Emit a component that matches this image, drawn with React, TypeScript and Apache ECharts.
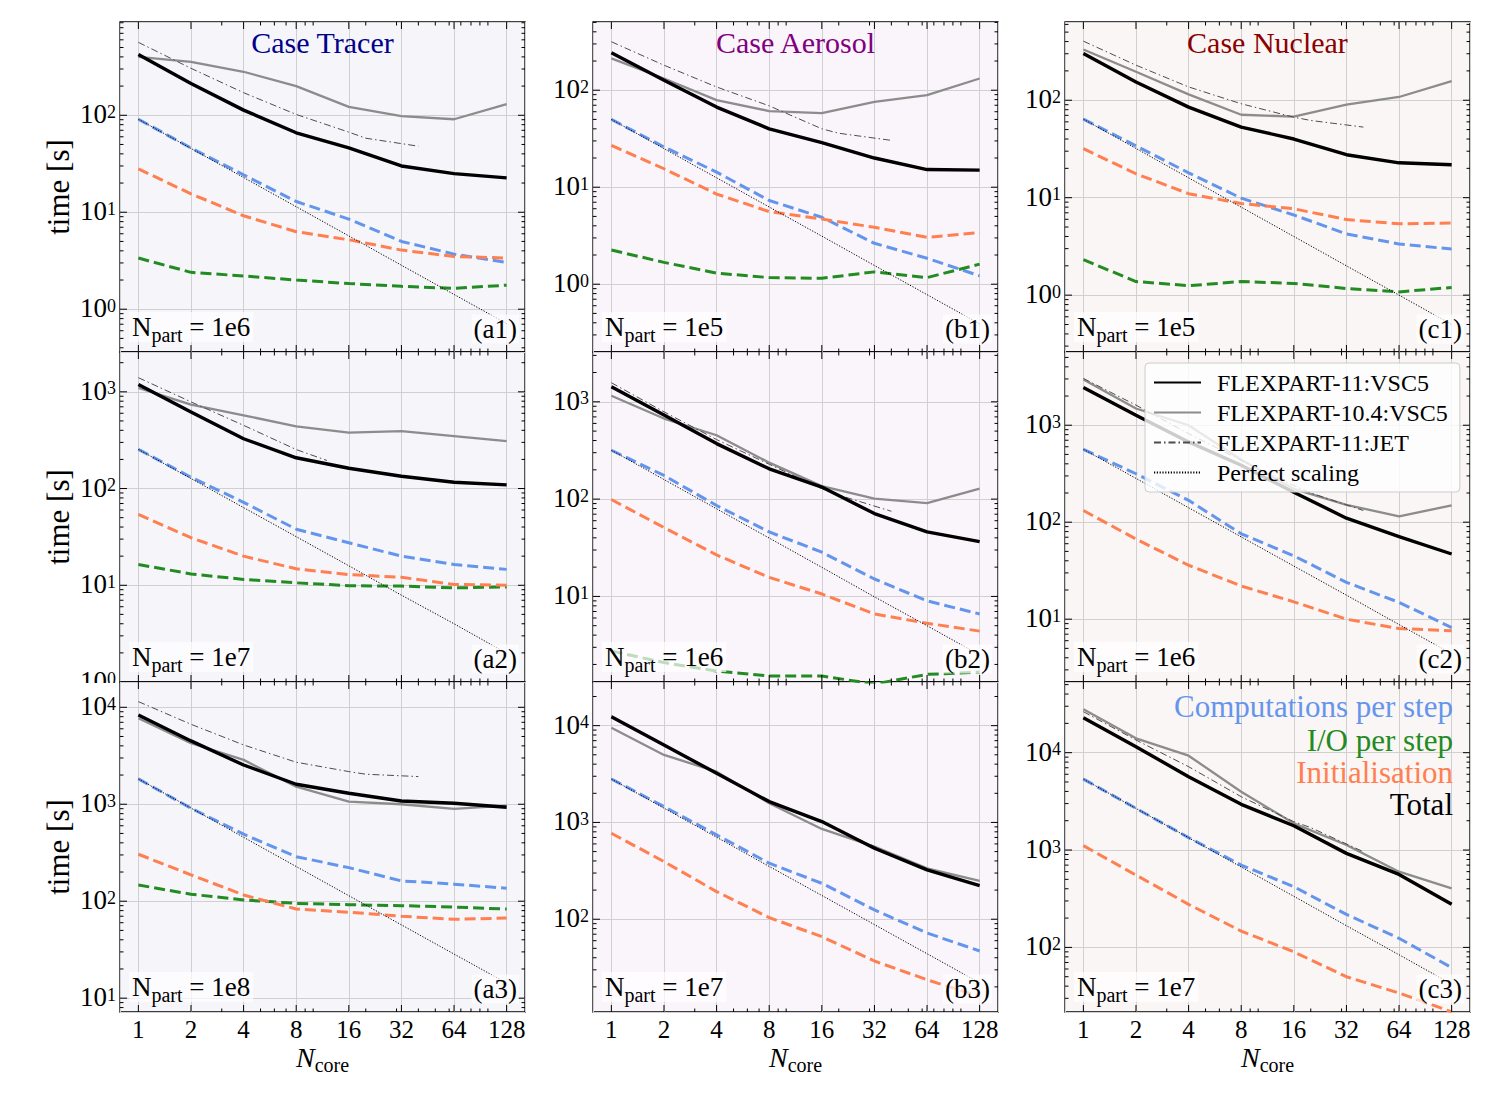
import React, { useEffect, useRef } from "react";
import * as echarts from "echarts";

const FONT = "'Liberation Serif', 'DejaVu Serif', serif";

// ---------------- data ----------------
const CORES = [1, 2, 4, 8, 16, 32, 64, 128];
const JET_CORES = [1, 2, 4, 8, 16, 20, 40];
const JET_CORES_A2 = [1, 2, 4, 8, 12];
const X_TICKS = [1, 2, 4, 8, 16, 32, 64, 128];

const CASES = ["Case Tracer", "Case Aerosol", "Case Nuclear"];
const NPART = ["1e6", "1e5", "1e5", "1e7", "1e6", "1e6", "1e8", "1e7", "1e7"];
const TAGS = ["(a1)", "(b1)", "(c1)", "(a2)", "(b2)", "(c2)", "(a3)", "(b3)", "(c3)"];
const LEGEND_NAMES = ["FLEXPART-11:VSC5", "FLEXPART-10.4:VSC5", "FLEXPART-11:JET", "Perfect scaling"];
const COMPONENT_NAMES = ["Computations per step", "I/O per step", "Initialisation", "Total"];

// Case Tracer, Npart 1e6 (a1)
const a1Total = [424, 213, 113, 66, 46, 30, 25, 22.6];
const a1V104 = [401, 356, 281, 200, 122, 98, 91, 130];
const a1Jet = [565, 305, 171, 102, 67, 58, 48];
const a1Comp = [91, 46, 24.3, 12.9, 8.5, 5.0, 3.7, 3.04];
const a1IO = [3.37, 2.4, 2.2, 2.0, 1.84, 1.72, 1.64, 1.77];
const a1Init = [28, 15.5, 9.2, 6.3, 5.2, 4.07, 3.5, 3.37];
const a1Perfect = [91, 45.5, 22.8, 11.4, 5.7, 2.84, 1.42, 0.71];

// Case Aerosol, Npart 1e5 (b1)
const b1Total = [243, 127, 67, 40, 28.8, 20, 15.2, 15.0];
const b1V104 = [213, 132, 79, 61, 58, 76, 89, 132];
const b1Jet = [316, 181, 108, 69, 40, 36, 30.4];
const b1Comp = [50, 26, 14.3, 7.3, 4.9, 2.64, 1.85, 1.22];
const b1IO = [2.25, 1.68, 1.3, 1.17, 1.15, 1.34, 1.17, 1.61];
const b1Init = [27, 15.5, 8.5, 5.6, 4.7, 3.86, 3.04, 3.4];
const b1Perfect = [50, 25, 12.5, 6.25, 3.13, 1.56, 0.78, 0.39];

// Case Nuclear, Npart 1e5 (c1)
const c1Total = [302, 154, 85, 53, 40, 27.6, 22.8, 21.8];
const c1V104 = [332, 196, 115, 71, 68, 90, 108, 157];
const c1Jet = [404, 229, 137, 92, 67, 62, 53];
const c1Comp = [64, 34, 18, 9.9, 6.65, 4.25, 3.35, 2.97];
const c1IO = [2.31, 1.38, 1.25, 1.38, 1.32, 1.17, 1.08, 1.2];
const c1Init = [31.8, 17.6, 11, 8.7, 7.7, 5.96, 5.4, 5.5];
const c1Perfect = [64, 32, 16, 8, 4, 2, 1, 0.5];

// Case Tracer, Npart 1e7 (a2)
const a2Total = [1192, 620, 327, 208, 162, 134, 116, 109];
const a2V104 = [1100, 738, 571, 440, 378, 393, 349, 309];
const a2Jet = [1400, 787, 450, 253, 195];
const a2Comp = [254, 131, 72, 38, 27.5, 20, 16.4, 14.6];
const a2IO = [16.4, 13.1, 11.5, 10.6, 9.9, 9.8, 9.4, 9.6];
const a2Init = [54, 31, 20, 14.8, 12.9, 12.1, 10.2, 10];
const a2Perfect = [254, 127, 63.5, 31.8, 15.9, 7.9, 4.0, 1.98];

// Case Aerosol, Npart 1e6 (b2)
const b2Total = [1430, 730, 372, 205, 133, 71, 46, 36.6];
const b2V104 = [1153, 673, 453, 237, 136, 101, 91, 128];
const b2Jet = [1571, 789, 409, 228, 128, 110, 75];
const b2Comp = [318, 175, 86, 46, 28.5, 15.1, 9.0, 6.6];
const b2IO = [2.75, 2.09, 1.71, 1.52, 1.52, 1.26, 1.58, 1.67];
const b2Init = [99, 51, 26.7, 15.7, 10.6, 6.6, 5.3, 4.4];
const b2Perfect = [318, 159, 79.5, 39.8, 19.9, 9.9, 5.0, 2.5];

// Case Nuclear, Npart 1e6 (c2)
const c2Total = [2450, 1270, 673, 386, 204, 110, 71, 47];
const c2V104 = [2966, 1487, 1000, 440, 221, 151, 115, 149];
const c2Jet = [3040, 1611, 820, 435, 239, 200, 132];
const c2Comp = [565, 316, 168, 76, 45, 24, 14.9, 8.2];
const c2Init = [132, 67, 36, 22, 15.1, 10, 8.0, 7.6];
const c2Perfect = [565, 283, 141, 70.6, 35.3, 17.7, 8.8, 4.4];

// Case Tracer, Npart 1e8 (a3)
const a3Total = [8340, 4500, 2540, 1607, 1297, 1081, 1023, 931];
const a3V104 = [7710, 4260, 2867, 1520, 1065, 1000, 896, 969];
const a3Jet = [11440, 6680, 4090, 2713, 2172, 2040, 1929];
const a3Comp = [1825, 910, 491, 288, 222, 162, 150, 136];
const a3IO = [147, 118, 103, 95, 92, 90, 87, 83];
const a3Init = [305, 187, 116, 83, 77, 70, 65, 67];
const a3Perfect = [1825, 913, 456, 228, 114, 57, 28.5, 14.3];

// Case Aerosol, Npart 1e7 (b3)
const b3Total = [12390, 6310, 3217, 1641, 1020, 541, 323, 223];
const b3V104 = [9530, 4980, 3350, 1578, 857, 562, 336, 249];
const b3Jet = [12600, 6400, 3250, 1660, 1010, 830, 470];
const b3Comp = [2810, 1459, 744, 379, 235, 125, 72, 47];
const b3Init = [773, 394, 193, 104, 66, 37, 23.7, 15.9];
const b3Perfect = [2810, 1405, 703, 351, 176, 88, 44, 22];

// Case Nuclear, Npart 1e7 (c3)
const c3Total = [22900, 11520, 5665, 2945, 1778, 924, 562, 277];
const c3V104 = [27860, 14030, 9310, 3972, 1880, 1125, 599, 403];
const c3Jet = [26350, 13490, 7180, 3530, 1955, 1700, 961];
const c3Comp = [5355, 2680, 1340, 701, 420, 218, 124, 62];
const c3Init = [1109, 553, 277, 147, 90, 50, 34, 21.8];
const c3Perfect = [5355, 2678, 1339, 669, 335, 167, 84, 42];

// ---------------- layout / style ----------------
const COL_LEFT = [120, 593, 1065];
const ROW_TOP = [22, 352, 682];
const PW = 405;
const PH = 330;
const BG = ["#f5f5fa", "#faf5fa", "#faf6f5"];
const CASE_COLORS = ["#00008b", "#800080", "#8b0000"];
const C_COMP = "#6495ED";
const C_IO = "#228B22";
const C_INIT = "#FF7F50";
const GRID_C = "#d0d0d0";
const X_MIN = 0.785;
const X_MAX = 163;
const Y_RANGE = [
  [0.362, 916], [0.2, 505], [0.261, 635],
  [1, 2580], [1.32, 3250], [2.25, 5690],
  [7.2, 18230], [11, 28250], [21.7, 53200],
];

const PANELS = [
  { total: a1Total, v104: a1V104, jet: a1Jet, jetCores: JET_CORES, comp: a1Comp, io: a1IO, init: a1Init, perfect: a1Perfect },
  { total: b1Total, v104: b1V104, jet: b1Jet, jetCores: JET_CORES, comp: b1Comp, io: b1IO, init: b1Init, perfect: b1Perfect },
  { total: c1Total, v104: c1V104, jet: c1Jet, jetCores: JET_CORES, comp: c1Comp, io: c1IO, init: c1Init, perfect: c1Perfect },
  { total: a2Total, v104: a2V104, jet: a2Jet, jetCores: JET_CORES_A2, comp: a2Comp, io: a2IO, init: a2Init, perfect: a2Perfect },
  { total: b2Total, v104: b2V104, jet: b2Jet, jetCores: JET_CORES, comp: b2Comp, io: b2IO, init: b2Init, perfect: b2Perfect },
  { total: c2Total, v104: c2V104, jet: c2Jet, jetCores: JET_CORES, comp: c2Comp, io: null, init: c2Init, perfect: c2Perfect },
  { total: a3Total, v104: a3V104, jet: a3Jet, jetCores: JET_CORES, comp: a3Comp, io: a3IO, init: a3Init, perfect: a3Perfect },
  { total: b3Total, v104: b3V104, jet: b3Jet, jetCores: JET_CORES, comp: b3Comp, io: null, init: b3Init, perfect: b3Perfect },
  { total: c3Total, v104: c3V104, jet: c3Jet, jetCores: JET_CORES, comp: c3Comp, io: null, init: c3Init, perfect: c3Perfect },
];

const powExp = (v: number, base: number) => {
  const e = Math.log(v) / Math.log(base);
  return Math.abs(e - Math.round(e)) < 1e-6 ? Math.round(e) : null;
};

const pairs = (xs: number[], ys: number[]) => ys.map((y, j) => [xs[j], y]);

function tickRenderer(yMin: number, yMax: number) {
  return (params: any, api: any) => {
    const cs = params.coordSys;
    const L = cs.x, R = cs.x + cs.width, T = cs.y, B = cs.y + cs.height;
    const ch: any[] = [];
    const ln = (x1: number, y1: number, x2: number, y2: number) =>
      ch.push({ type: "line", shape: { x1, y1, x2, y2 }, style: { stroke: "#000", lineWidth: 1 } });
    const k0 = Math.floor(Math.log10(yMin));
    const k1 = Math.ceil(Math.log10(yMax));
    for (let k = k0; k <= k1; k++) {
      for (let m = 1; m <= 9; m++) {
        const v = m * Math.pow(10, k);
        if (v <= yMin * 1.0001 || v >= yMax) continue;
        const py = api.coord([1, v])[1];
        const len = m === 1 ? 7 : 3.5;
        ln(L, py, L + len, py);
        ln(R - len, py, R, py);
      }
    }
    X_TICKS.forEach((v) => {
      const px = api.coord([v, yMin])[0];
      ln(px, B, px, B - 7);
      ln(px, T, px, T + 7);
    });
    for (let k = 0; k <= 2; k++) {
      for (let m = 1; m <= 9; m++) {
        const v = m * Math.pow(10, k);
        if (v <= X_MIN || v >= X_MAX) continue;
        if (powExp(v, 2) !== null) continue;
        const px = api.coord([v, yMin])[0];
        ln(px, B, px, B - 3.5);
        ln(px, T, px, T + 3.5);
      }
    }
    return { type: "group", children: ch };
  };
}

function buildOption() {
  const grids: any[] = [];
  const xAxes: any[] = [];
  const yAxes: any[] = [];
  const series: any[] = [];
  const graphic: any[] = [];

  PANELS.forEach((p, i) => {
    const row = Math.floor(i / 3);
    const col = i % 3;
    const [yMin, yMax] = Y_RANGE[i];
    const left = COL_LEFT[col];
    const top = ROW_TOP[row];
    const zAx = row === 2 ? 2 : 0;

    grids.push({
      left, top, width: PW, height: PH,
      show: true, backgroundColor: BG[col], borderColor: "#000", borderWidth: 1.3,
      containLabel: false, outerBoundsMode: "none",
      z: row === 2 ? 1 : 0,
    });

    xAxes.push({
      type: "log", logBase: 2, gridIndex: i, min: X_MIN, max: X_MAX, z: zAx,
      axisLine: { show: false }, axisTick: { show: false },
      splitLine: { show: true, lineStyle: { color: GRID_C, width: 1 } },
      axisLabel: {
        show: row === 2, margin: 5, color: "#000", fontFamily: FONT, fontSize: 25,
        formatter: (v: number) => (powExp(v, 2) === null ? "" : String(Math.round(v))),
      },
      name: row === 2 ? "{i|N}{s|core}" : "",
      nameLocation: "middle", nameGap: 31,
      nameTextStyle: {
        color: "#000",
        rich: {
          i: { fontFamily: FONT, fontStyle: "italic", fontSize: 28, lineHeight: 28, verticalAlign: "top", color: "#000" },
          s: { fontFamily: FONT, fontSize: 20, lineHeight: 20, padding: [12, 0, 0, 0], verticalAlign: "top", color: "#000" },
        },
      },
    });

    yAxes.push({
      type: "log", logBase: 10, gridIndex: i, min: yMin, max: yMax, z: zAx,
      axisLine: { show: false }, axisTick: { show: false },
      splitLine: { show: true, lineStyle: { color: GRID_C, width: 1 } },
      axisLabel: {
        margin: 4, color: "#000",
        formatter: (v: number) => {
          const e = powExp(v, 10);
          return e === null ? "" : `{b|10}{s|${e}}`;
        },
        rich: {
          b: { fontFamily: FONT, fontSize: 27, lineHeight: 25, padding: [6, 0, 0, 0], verticalAlign: "bottom", color: "#000" },
          s: { fontFamily: FONT, fontSize: 18, lineHeight: 18, verticalAlign: "top", color: "#000" },
        },
      },
      name: col === 0 ? "time [s]" : "",
      nameLocation: "middle", nameRotate: 90, nameGap: 46,
      nameTextStyle: { fontFamily: FONT, fontSize: 31, color: "#000" },
    });

    const base = { type: "line", xAxisIndex: i, yAxisIndex: i, symbol: "none", silent: true, z: 3, clip: true };
    const dashed = [11, 5];
    series.push({
      ...base, name: LEGEND_NAMES[1], data: pairs(CORES, p.v104),
      itemStyle: { color: "#8c8c8c" }, lineStyle: { color: "#8c8c8c", width: 2.3, join: "round" },
    });
    series.push({
      ...base, name: LEGEND_NAMES[2], data: pairs(p.jetCores, p.jet),
      itemStyle: { color: "#4d4d4d" }, lineStyle: { color: "#4d4d4d", width: 1, type: [7, 3, 1.5, 3] },
    });
    series.push({
      ...base, name: LEGEND_NAMES[0], data: pairs(CORES, p.total),
      itemStyle: { color: "#000" }, lineStyle: { color: "#000", width: 3.4, join: "round" },
    });
    series.push({
      ...base, name: COMPONENT_NAMES[0], data: pairs(CORES, p.comp),
      itemStyle: { color: C_COMP }, lineStyle: { color: C_COMP, width: 3, type: dashed, cap: "butt" },
    });
    if (p.io) {
      series.push({
        ...base, name: COMPONENT_NAMES[1], data: pairs(CORES, p.io),
        itemStyle: { color: C_IO }, lineStyle: { color: C_IO, width: 3, type: dashed, cap: "butt" },
      });
    }
    series.push({
      ...base, name: COMPONENT_NAMES[2], data: pairs(CORES, p.init),
      itemStyle: { color: C_INIT }, lineStyle: { color: C_INIT, width: 3, type: dashed, cap: "butt" },
    });
    series.push({
      ...base, name: LEGEND_NAMES[3], data: pairs(CORES, p.perfect),
      itemStyle: { color: "#000" }, lineStyle: { color: "#000", width: 1, type: [1.2, 1.6] },
    });
    series.push({
      type: "custom", xAxisIndex: i, yAxisIndex: i, silent: true, z: 4,
      data: [[1, yMin]], renderItem: tickRenderer(yMin, yMax),
    });

    // N_part label
    graphic.push({
      type: "text", z: 10,
      style: {
        text: `{n|N}{s|part}{n| = ${NPART[i]}}`,
        x: left + 9, y: top + PH - 25,
        verticalAlign: "middle", textVerticalAlign: "middle",
        backgroundColor: "rgba(255,255,255,0.7)", padding: [1, 3, 1, 3],
        fill: "#000",
        rich: {
          n: { fontFamily: FONT, fontSize: 27, lineHeight: 28, verticalAlign: "top", fill: "#000", color: "#000" },
          s: { fontFamily: FONT, fontSize: 20, lineHeight: 20, padding: [12, 0, 0, 0], verticalAlign: "top", fill: "#000", color: "#000" },
        },
      },
    });
    // panel tag
    graphic.push({
      type: "text", z: 10,
      style: {
        text: TAGS[i], x: left + PW - 6, y: top + PH - 23,
        align: "right", textAlign: "right", verticalAlign: "middle", textVerticalAlign: "middle",
        fontFamily: FONT, fontSize: 27, fill: "#000",
        backgroundColor: "rgba(255,255,255,0.7)", padding: [1, 2, 1, 2],
      },
    });
  });

  CASES.forEach((t, c) => {
    graphic.push({
      type: "text", z: 10,
      style: {
        text: t, x: COL_LEFT[c] + PW / 2, y: 42,
        align: "center", textAlign: "center", verticalAlign: "middle", textVerticalAlign: "middle",
        fontFamily: FONT, fontSize: 30, fill: CASE_COLORS[c],
      },
    });
  });

  // mask that hides the lower half of the (a2) bottom tick label, as in the original figure
  graphic.push({
    type: "rect", z: 1,
    shape: { x: 60, y: ROW_TOP[2] + 1, width: COL_LEFT[0] - 61, height: 12 },
    style: { fill: "#ffffff" },
  });

  const compColors = [C_COMP, C_IO, C_INIT, "#000"];
  const compY = [706, 740, 772, 804];
  COMPONENT_NAMES.forEach((t, k) => {
    graphic.push({
      type: "text", z: 10,
      style: {
        text: t, x: 1453, y: compY[k],
        align: "right", textAlign: "right", verticalAlign: "middle", textVerticalAlign: "middle",
        fontFamily: FONT, fontSize: 31, fill: compColors[k],
      },
    });
  });

  return {
    animation: false,
    backgroundColor: "#ffffff",
    grid: grids,
    xAxis: xAxes,
    yAxis: yAxes,
    series,
    graphic,
    legend: {
      show: true, orient: "vertical", left: 1145, top: 363, z: 10,
      data: LEGEND_NAMES,
      selectedMode: false,
      itemWidth: 47, itemHeight: 14, itemGap: 5,
      itemStyle: { opacity: 0 },
      textStyle: { fontFamily: FONT, fontSize: 24, lineHeight: 25, color: "#000", padding: [0, 0, 0, 11] },
      backgroundColor: "rgba(255,255,255,0.8)", borderColor: "#cccccc", borderWidth: 1, borderRadius: 4,
      padding: [7, 12, 7, 8],
    },
  };
}

export default function App() {
  const ref = useRef<HTMLDivElement>(null);
  useEffect(() => {
    const chart = echarts.init(ref.current as HTMLDivElement, null, { renderer: "svg" });
    chart.setOption(buildOption() as any);
    return () => chart.dispose();
  }, []);
  return (
    <div
      ref={ref}
      style={{ position: "absolute", left: 0, top: 0, width: 1500, height: 1100, background: "#fff" }}
    />
  );
}
